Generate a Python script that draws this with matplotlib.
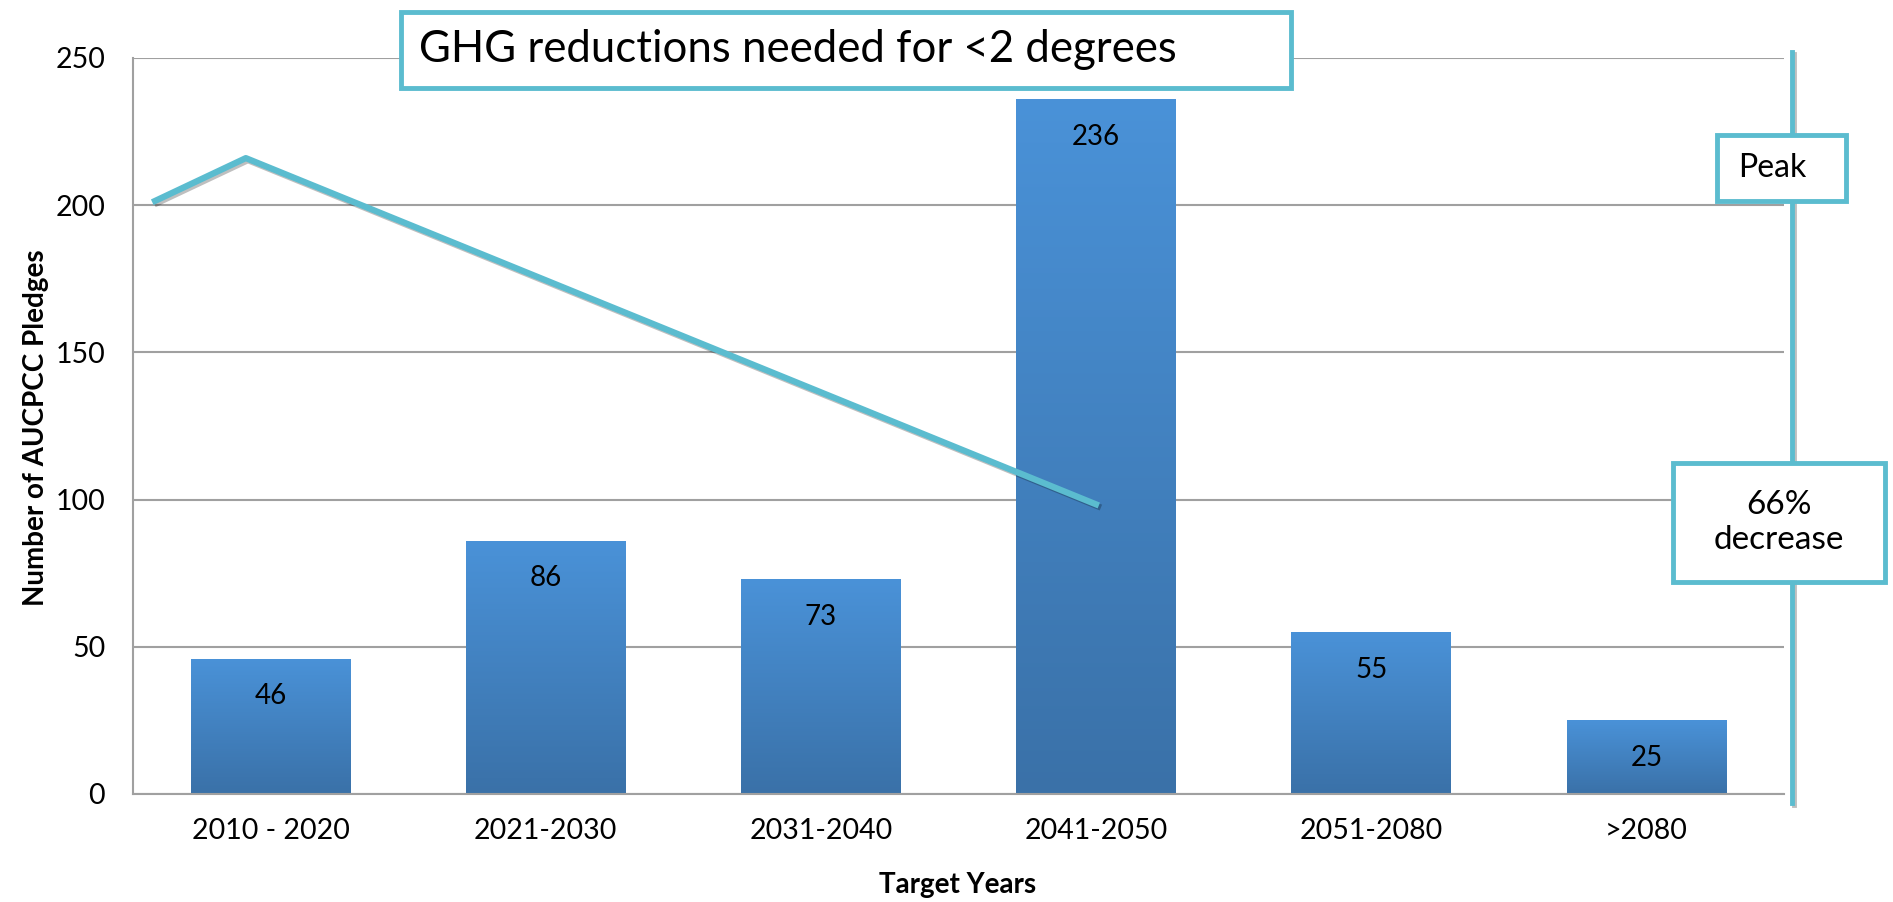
import numpy as np
import matplotlib
matplotlib.use("Agg")
import matplotlib.pyplot as plt
import matplotlib.patheffects as pe
from matplotlib.patches import Rectangle

# chart data
categories = ["2010 - 2020", "2021-2030", "2031-2040", "2041-2050", "2051-2080", ">2080"]
pledges = [46, 86, 73, 236, 55, 25]

# hand-drawn GHG reduction line (data coordinates)
ghg_x = [-0.43, -0.09, 3.01]
ghg_y = [201, 216, 98]

# vertical marker line on the right
marker_x = 5.53
marker_y = [-3, 252]

yticks = [0, 50, 100, 150, 200, 250]

CYAN = "#5bbccf"
plt.rcParams['font.family'] = ['Lato', 'DejaVu Sans']

W, H = 1893, 902
fig = plt.figure(figsize=(W / 100, H / 100), dpi=100)
ax = fig.add_axes([133 / W, 1 - 794 / H, (1784 - 133) / W, (794 - 58) / H])

x = np.arange(len(categories))
bars = ax.bar(x, pledges, width=0.58, color="#3f7fc0", zorder=2)

# vertical gradient for each bar
grad = np.linspace(0, 1, 256).reshape(-1, 1)
cmap = matplotlib.colors.LinearSegmentedColormap.from_list("bar", ["#3a71a8", "#4a92d8"])
for b in bars:
    x0, y0 = b.get_x(), b.get_y()
    im = ax.imshow(grad, extent=[x0, x0 + b.get_width(), y0, y0 + b.get_height()],
                   origin="lower", cmap=cmap, aspect="auto", zorder=2.1)
    im.set_clip_path(b)

for i, v in enumerate(pledges):
    ax.annotate(str(v), (i, v), xytext=(0, -27), textcoords="offset points",
                ha="center", va="center", fontsize=20, zorder=3)

ax.set_xlim(-0.5, len(categories) - 0.5)
ax.set_ylim(0, 250)
ax.set_yticks(yticks)
ax.set_xticks(x)
ax.set_xticklabels(categories)
ax.tick_params(axis="both", length=0, labelsize=20.5)
ax.tick_params(axis="y", pad=20)
ax.tick_params(axis="x", pad=17)
ax.yaxis.grid(True, color="#a0a0a0", linewidth=1.5, zorder=0)
ax.set_axisbelow(True)
for side in ["top", "right"]:
    ax.spines[side].set_visible(False)
for side in ["left", "bottom"]:
    ax.spines[side].set_color("#a0a0a0")
    ax.spines[side].set_linewidth(1.5)

shadow = [pe.SimpleLineShadow(offset=(1.5, -1.5), alpha=0.25), pe.Normal()]
ax.plot(ghg_x, ghg_y, color=CYAN, linewidth=4.5, zorder=4,
        solid_capstyle="butt", path_effects=shadow)
ax.plot([marker_x, marker_x], marker_y, color=CYAN, linewidth=3.5, zorder=4,
        clip_on=False, path_effects=shadow)

fig.text(36 / W, 1 - 428 / H, "Number of AUCPCC Pledges", rotation=90,
         ha="center", va="center", fontsize=20, fontweight="bold")
fig.text(958 / W, 1 - 885 / H, "Target Years", ha="center", va="center",
         fontsize=20, fontweight="bold")


def box(x0, y0, x1, y1, lines, tx, fs):
    # rectangle in pixel coords (top-left origin) converted to figure fraction
    r = Rectangle((x0 / W, 1 - y1 / H), (x1 - x0) / W, (y1 - y0) / H,
                  transform=fig.transFigure, facecolor="white", edgecolor=CYAN,
                  linewidth=3.5, zorder=10)
    fig.add_artist(r)
    fig.text(tx / W, 1 - (y0 + y1) / 2 / H, lines, ha="center", va="center",
             fontsize=fs, zorder=11, linespacing=1.2)


box(401, 12, 1291, 88, "GHG reductions needed for <2 degrees", 798, 31.5)
box(1717, 135, 1846, 201, "Peak", 1772, 23)
box(1673, 463, 1885, 582, "66%\ndecrease", 1779, 24)

fig.savefig("out.png", dpi=100)
